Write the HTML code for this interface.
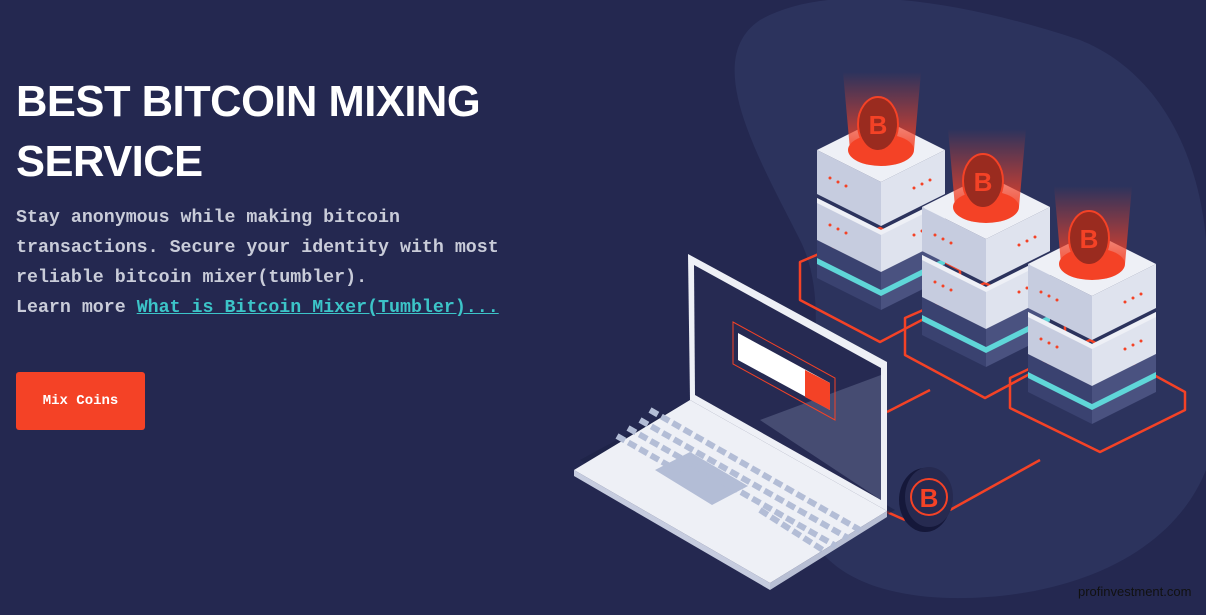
<!DOCTYPE html>
<html><head><meta charset="utf-8"><style>
html,body{margin:0;padding:0}
body{width:1206px;height:615px;background:#242850;position:relative;overflow:hidden;font-family:"Liberation Sans",sans-serif}
svg{position:absolute;left:0;top:0}
h1{position:absolute;left:16px;top:72px;margin:0;color:#fff;font-weight:bold;font-size:43.5px;line-height:60px;letter-spacing:-0.5px}
.p{position:absolute;left:16px;top:203px;color:#c9ccd9;font-family:"Liberation Mono",monospace;font-size:18.3px;line-height:30px;font-weight:bold;white-space:pre}
.p a{color:#3cc4c8;text-decoration:underline}
.btn{position:absolute;left:16px;top:372px;width:129px;height:58px;background:#f44226;border-radius:3px;color:#fff;font-family:"Liberation Mono",monospace;font-size:14px;line-height:58px;text-align:center;font-weight:bold}
.wm{position:absolute;left:1078px;top:584px;font-size:13px;color:#111;}
</style></head><body>
<svg width="1206" height="615" viewBox="0 0 1206 615">
<defs>
<linearGradient id="beam" x1="0" y1="1" x2="0" y2="0"><stop offset="0" stop-color="#f44226" stop-opacity=".9"/><stop offset="1" stop-color="#f44226" stop-opacity="0"/></linearGradient>
</defs>
<path d="M760 20 C830 -20 960 0 1080 40 C1180 80 1215 200 1206 300 L1206 470 C1170 560 1060 600 950 598 C860 596 790 560 800 470 C810 380 830 300 800 240 C760 160 700 60 760 20Z" fill="#2c335d"/>
<g fill="none" stroke="#f44226" stroke-width="2.5" stroke-linejoin="round">
<path d="M800 262 L880 228 L960 270 L960 300 L880 342 L800 300Z"/>
<path d="M905 318 L985 283 L1065 325 L1065 355 L985 398 L905 355Z"/>
<path d="M1010 378 L1090 340 L1185 392 L1185 410 L1100 452 L1010 408Z"/>
<path d="M887 412 L930 390"/><path d="M812 330 L800 340"/>
<path d="M950 510 L1040 460"/><path d="M887 512 L905 520"/>
</g>
<g id="s">
<!-- dark base -->
<path d="M817 240 L881 272 L881 310 L817 278Z" fill="#3a4270"/>
<path d="M881 272 L945 240 L945 278 L881 310Z" fill="#4a5280"/>
<path d="M817 258 L881 290 L945 258 L945 264 L881 296 L817 264Z" fill="#5fd6d8"/>
<!-- block 2 -->
<path d="M817 198 L881 230 L881 272 L817 240Z" fill="#c6ccdf"/>
<path d="M881 230 L945 198 L945 240 L881 272Z" fill="#dfe3ee"/>
<path d="M817 198 L881 230 L945 198 L945 203 L881 235 L817 203Z" fill="#eef0f6"/>
<!-- block 1 -->
<path d="M817 150 L881 182 L881 226 L817 194Z" fill="#c6ccdf"/>
<path d="M881 182 L945 150 L945 194 L881 226Z" fill="#dfe3ee"/>
<g fill="#f44226"><circle cx="830" cy="178" r="1.5"/><circle cx="838" cy="182" r="1.5"/><circle cx="846" cy="186" r="1.5"/><circle cx="914" cy="188" r="1.5"/><circle cx="922" cy="184" r="1.5"/><circle cx="930" cy="180" r="1.5"/><circle cx="830" cy="225" r="1.5"/><circle cx="838" cy="229" r="1.5"/><circle cx="846" cy="233" r="1.5"/><circle cx="914" cy="235" r="1.5"/><circle cx="922" cy="231" r="1.5"/><circle cx="930" cy="227" r="1.5"/></g>
<path d="M817 150 L881 118 L945 150 L881 182Z" fill="#eef0f6"/>
<ellipse cx="881" cy="150" rx="33" ry="16" fill="#f44226"/>
<path d="M843 72 L921 72 L914 150 L850 150Z" fill="url(#beam)"/>
<ellipse cx="878" cy="124" rx="20" ry="27" fill="#9a2b1f" stroke="#f44226" stroke-width="2"/>
<text x="878" y="134" font-size="26" font-weight="bold" fill="#f44226" text-anchor="middle">B</text>
</g>
<use href="#s" transform="translate(105,57)"/>
<use href="#s" transform="translate(211,114)"/>
<path d="M580 460 L700 395 L895 510 L775 578Z" fill="#1d2145" opacity=".6"/>
<path d="M574 470 L690 400 L887 511 L770 583Z" fill="#eef0f6"/>
<path d="M574 470 L770 583 L770 590 L574 476Z" fill="#c6ccdf"/>
<path d="M770 583 L887 511 L887 517 L770 590Z" fill="#b8bfd4"/>
<path d="M655 470 L690 452 L748 486 L712 505Z" fill="#b3bdd6"/>
<g stroke="#b3bdd6" stroke-width="6" stroke-dasharray="9 4">
<path d="M650 410 L860 530"/><path d="M640 420 L848 538"/><path d="M628 428 L836 546"/><path d="M617 436 L680 472"/><path d="M760 510 L826 552"/>
</g>
<path d="M688 254 L887 362 L887 511 L690 400Z" fill="#eef0f6"/>
<path d="M694 265 L881 368 L881 500 L695 395Z" fill="#262a52"/>
<path d="M760 420 L881 375 L881 500Z" fill="#464c72"/>
<path d="M733 322 L835 378 L835 420 L733 364Z" fill="none" stroke="#f44226" stroke-width="1"/>
<path d="M738 333 L830 383 L830 410 L738 360Z" fill="#fff"/>
<path d="M805 370 L830 383 L830 410 L805 397Z" fill="#f44226"/>
<ellipse cx="925" cy="500" rx="26" ry="32" fill="#15183a"/>
<ellipse cx="929" cy="497" rx="24" ry="30" fill="#262a50"/>
<circle cx="929" cy="497" r="18" fill="none" stroke="#f44226" stroke-width="2"/>
<text x="929" y="507" font-size="26" font-weight="bold" fill="#f44226" text-anchor="middle">B</text>
</svg>
<h1>BEST BITCOIN MIXING<br>SERVICE</h1>
<div class="p">Stay anonymous while making bitcoin
transactions. Secure your identity with most
reliable bitcoin mixer(tumbler).
Learn more <a>What is Bitcoin Mixer(Tumbler)...</a></div>
<div class="btn">Mix Coins</div>
<div class="wm">profinvestment.com</div>
</body></html>
